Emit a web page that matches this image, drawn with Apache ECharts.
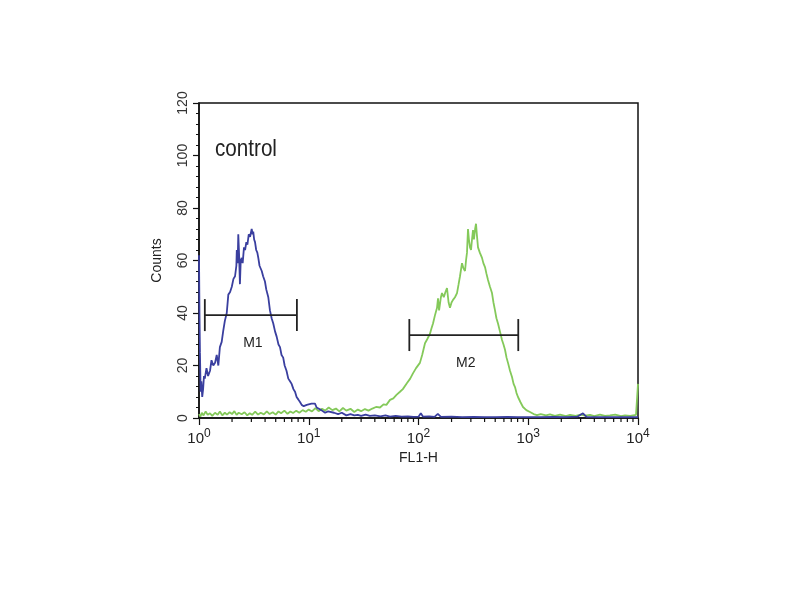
<!DOCTYPE html>
<html>
<head>
<meta charset="utf-8">
<title>control</title>
<script src="https://cdn.jsdelivr.net/npm/echarts@6/dist/echarts.min.js"></script>
<style>
  html, body { margin: 0; padding: 0; background: #fff; }
  #chart_container { width: 800px; height: 600px; }
</style>
</head>
<body>
<div id="chart_container"></div>
<script>
// 蓝色: control 直方图 [FL1-H, Counts]
var blueData = [
    [1.0, 62], [1.01, 40], [1.02, 25], [1.035, 10], [1.05, 14], [1.07, 8], [1.09, 11], [1.11, 16],
    [1.13, 15], [1.17, 19], [1.21, 16], [1.26, 18], [1.30, 22], [1.35, 20], [1.40, 21], [1.45, 24],
    [1.50, 20], [1.55, 27], [1.61, 29], [1.66, 33], [1.72, 37], [1.79, 40], [1.85, 47], [1.92, 48],
    [1.99, 50], [2.06, 53], [2.13, 54], [2.19, 58], [2.21, 64], [2.25, 59], [2.28, 70], [2.32, 62],
    [2.36, 51], [2.40, 60], [2.45, 61], [2.50, 59], [2.57, 65], [2.63, 64], [2.70, 67], [2.76, 66],
    [2.84, 70], [2.92, 69], [3.02, 72], [3.08, 70], [3.12, 71], [3.18, 68], [3.24, 67], [3.32, 64],
    [3.40, 63], [3.47, 61], [3.56, 58], [3.65, 58], [3.73, 56], [3.84, 54], [3.99, 52], [4.10, 49],
    [4.28, 46], [4.43, 41], [4.59, 38], [4.75, 36], [4.93, 33], [5.10, 31], [5.30, 28], [5.47, 27],
    [5.65, 24], [5.85, 23], [6.03, 20], [6.27, 18], [6.51, 15], [6.75, 14], [6.98, 13], [7.25, 11],
    [7.50, 10], [7.75, 8], [8.05, 7], [8.35, 6], [8.62, 5], [9.0, 4.5], [9.26, 4], [9.6, 5],
    [10.0, 5.5], [10.6, 5.5], [11.0, 6], [11.4, 5.5], [11.8, 4], [12.3, 3.5], [13.0, 3], [14.1, 2],
    [15.0, 2.5], [15.6, 2.5], [17, 2], [18.5, 1.5], [20, 2], [22, 1], [24, 1.5], [26, 1],
    [28, 1.2], [30, 0.8], [33, 1.3], [36, 0.8], [40, 1], [45, 0.6], [50, 1], [55, 0.5],
    [62, 0.8], [70, 0.5], [80, 0.6], [90, 0.4], [100, 0.5], [105, 1.8], [110, 0.5], [125, 0.6],
    [140, 0.4], [150, 1.6], [160, 0.4], [200, 0.5], [250, 0.3], [320, 0.4], [400, 0.3], [500, 0.3],
    [650, 0.4], [800, 0.3], [1000, 0.3], [1300, 0.3], [1700, 0.4], [2200, 0.3], [2800, 0.5], [3150, 1.8],
    [3400, 0.4], [4500, 0.3], [6000, 0.3], [8000, 0.3], [10000, 0.3]
]

// 绿色: 样品直方图 [FL1-H, Counts]
var greenData = [
    [1.0, 1.5], [1.03, 0.5], [1.06, 2], [1.1, 1], [1.15, 2.5], [1.2, 1.2], [1.26, 1.8], [1.32, 0.8],
    [1.4, 2], [1.48, 1.2], [1.55, 2.5], [1.63, 1], [1.72, 2], [1.8, 1.3], [1.9, 2.2], [2.0, 1.5],
    [2.1, 2.6], [2.2, 1.2], [2.3, 2], [2.45, 1.4], [2.6, 2.2], [2.75, 1], [2.9, 1.8], [3.05, 1.2],
    [3.25, 2.4], [3.45, 1.3], [3.65, 2], [3.9, 1.4], [4.15, 2.5], [4.4, 1.5], [4.7, 2.2], [5.0, 1.3],
    [5.3, 2.5], [5.6, 1.8], [6.0, 2.8], [6.4, 1.6], [6.8, 2.5], [7.2, 1.9], [7.7, 2.8], [8.2, 2],
    [8.8, 3], [9.4, 2.4], [10, 3.2], [10.7, 2.5], [11.5, 3.8], [12.3, 2.6], [13.2, 3.5], [14.1, 2.8],
    [15.2, 4], [16.4, 3], [17.7, 3.6], [19, 2.5], [20.5, 3.8], [22, 2.8], [24, 3.5], [26, 2.3],
    [28, 3.2], [30, 2.6], [32.5, 3.4], [35, 2.8], [38, 3.6], [41, 4.2], [44.6, 4], [48, 5.2],
    [51, 5], [55, 6.9], [59, 7.5], [63, 8.8], [67.8, 10], [72, 11], [78.6, 13.3], [84, 15],
    [89, 17], [95, 19], [103, 21], [108, 24], [114.6, 28.5], [120, 30], [127, 32], [131, 34],
    [135.6, 36], [141, 39], [147.5, 42], [150.6, 45.6], [154, 41], [157, 41], [160, 46], [163.7, 47.6],
    [170, 46], [176, 48], [181.8, 49.5], [188, 44], [193.6, 42], [200, 44], [206.3, 45], [215, 46],
    [224.3, 47.6], [232, 51], [238.8, 54], [249.1, 59], [257, 57], [265.3, 56], [271, 60], [276.6, 63],
    [282.5, 72], [288, 68], [294.6, 65], [301, 64], [307.3, 68], [313.8, 71.6], [320, 68], [328, 72],
    [334.2, 74], [340, 70], [348.5, 65], [362, 63], [379, 61], [390, 59], [403.6, 57.5], [416, 55],
    [429.9, 52.6], [448, 50], [467.4, 47.6], [482, 44], [497.8, 41], [513, 38], [530.2, 36], [552, 33],
    [576.6, 29.7], [595, 28], [614.1, 26], [634, 23], [654, 21], [682, 18], [711.2, 15.6], [735, 13],
    [757.5, 11.8], [782, 9.5], [806.6, 8], [850, 6], [895.6, 4.2], [960, 3], [1037, 2.3], [1120, 1.5],
    [1201, 1.1], [1300, 1.5], [1450, 1], [1578, 1.4], [1750, 0.8], [1950, 1.3], [2200, 0.7], [2402, 1.2],
    [2700, 0.8], [3000, 1.3], [3300, 0.9], [3653, 1.2], [4000, 0.7], [4500, 1.3], [5000, 0.8], [5557, 1],
    [6200, 1.3], [7000, 0.7], [7612, 1], [8500, 0.8], [9590, 1.2], [9950, 1], [10000, 13]
]

// 门控标记 M1 / M2
var gateNames = ['M1', 'M2']
var gateStart = [1.13, 82.5]
var gateEnd   = [7.8, 811]
var gateLevel = [39.2, 31.6]

// 坐标轴
var xDecades = [0, 1, 2, 3, 4]
var yTicks   = [0, 20, 40, 60, 80, 100, 120]

var minorTicks = []
for (let i = 0; i < xDecades.length - 1; i++) {
    for (let k = 2; k <= 9; k++) minorTicks.push([k * Math.pow(10, xDecades[i]), 0])
}
var gateData = gateNames.map((n, i) => [gateStart[i], gateEnd[i], gateLevel[i], n])

var fontFamily = "'Liberation Sans', Arial, sans-serif"

var chart = echarts.init(document.getElementById('chart_container'))
var option = {
    backgroundColor: '#fff',
    animation: false,
    grid: {
        left: 199, top: 103, width: 439, height: 315,
        show: true, borderColor: '#111', borderWidth: 1.5, backgroundColor: 'transparent'
    },
    graphic: [{
        type: 'text', left: 215, top: 137, scaleX: 0.86,
        style: { text: 'control', fontSize: 24, fill: '#222', fontFamily: fontFamily }
    }],
    xAxis: {
        type: 'log', logBase: 10, min: 1, max: 10000,
        name: 'FL1-H', nameLocation: 'middle', nameGap: 31,
        nameTextStyle: { fontSize: 14, color: '#222', fontFamily: fontFamily },
        axisLine: { lineStyle: { color: '#111', width: 1.5 } },
        axisTick: { show: true, length: 7, lineStyle: { color: '#111', width: 1.2 } },
        splitLine: { show: false },
        axisLabel: {
            margin: 10, color: '#222',
            formatter: v => '{b|10}{s|' + Math.round(Math.log10(v)) + '}',
            rich: {
                b: { fontSize: 15, fontFamily: fontFamily, color: '#222' },
                s: { fontSize: 12, fontFamily: fontFamily, color: '#222', padding: [0, 0, 9, 0] }
            }
        }
    },
    yAxis: {
        type: 'value', min: 0, max: 120, interval: 20,
        name: 'Counts', nameLocation: 'middle', nameGap: 35,
        nameTextStyle: { fontSize: 14, color: '#222', fontFamily: fontFamily },
        axisLine: { show: true, lineStyle: { color: '#111', width: 1.5 } },
        axisTick: { show: true, length: 6, lineStyle: { color: '#111', width: 1.2 } },
        minorTick: { show: true, splitNumber: 5, length: 3, lineStyle: { color: '#111', width: 1 } },
        splitLine: { show: false },
        axisLabel: {
            rotate: 90, margin: 9, fontSize: 14, color: '#333', fontFamily: fontFamily,
            formatter: v => yTicks.indexOf(v) >= 0 ? String(v) : ''
        }
    },
    series: [
        {
            name: 'control', type: 'line', data: blueData, symbol: 'none',
            lineStyle: { color: '#3a3f9f', width: 1.8 }, z: 3
        },
        {
            name: 'sample', type: 'line', data: greenData, symbol: 'none',
            lineStyle: { color: '#84c95a', width: 1.8 }, z: 2
        },
        {
            // x 轴对数次刻度
            type: 'custom', silent: true, data: minorTicks,
            encode: { x: 0, y: 1 },
            renderItem: function (params, api) {
                let p = api.coord([api.value(0), 0])
                return {
                    type: 'line',
                    shape: { x1: p[0], y1: p[1], x2: p[0], y2: p[1] + 4 },
                    style: { stroke: '#111', lineWidth: 1.2 }
                }
            }
        },
        {
            // 门控
            type: 'custom', silent: true, data: gateData, z: 5,
            encode: { x: [0, 1], y: 2 },
            renderItem: function (params, api) {
                let a = api.coord([api.value(0), api.value(2)])
                let b = api.coord([api.value(1), api.value(2)])
                let s = { stroke: '#222', lineWidth: 1.8 }
                return {
                    type: 'group',
                    children: [
                        { type: 'line', shape: { x1: a[0], y1: a[1], x2: b[0], y2: b[1] }, style: s },
                        { type: 'line', shape: { x1: a[0], y1: a[1] - 16, x2: a[0], y2: a[1] + 16 }, style: s },
                        { type: 'line', shape: { x1: b[0], y1: b[1] - 16, x2: b[0], y2: b[1] + 16 }, style: s },
                        {
                            type: 'text',
                            x: (a[0] + b[0]) / 2 + 2, y: a[1] + 28,
                            style: {
                                text: gateData[params.dataIndex][3], fontSize: 14, fill: '#222',
                                align: 'center', verticalAlign: 'middle', fontFamily: fontFamily
                            }
                        }
                    ]
                }
            }
        }
    ]
}
chart.setOption(option)
</script>
</body>
</html>
